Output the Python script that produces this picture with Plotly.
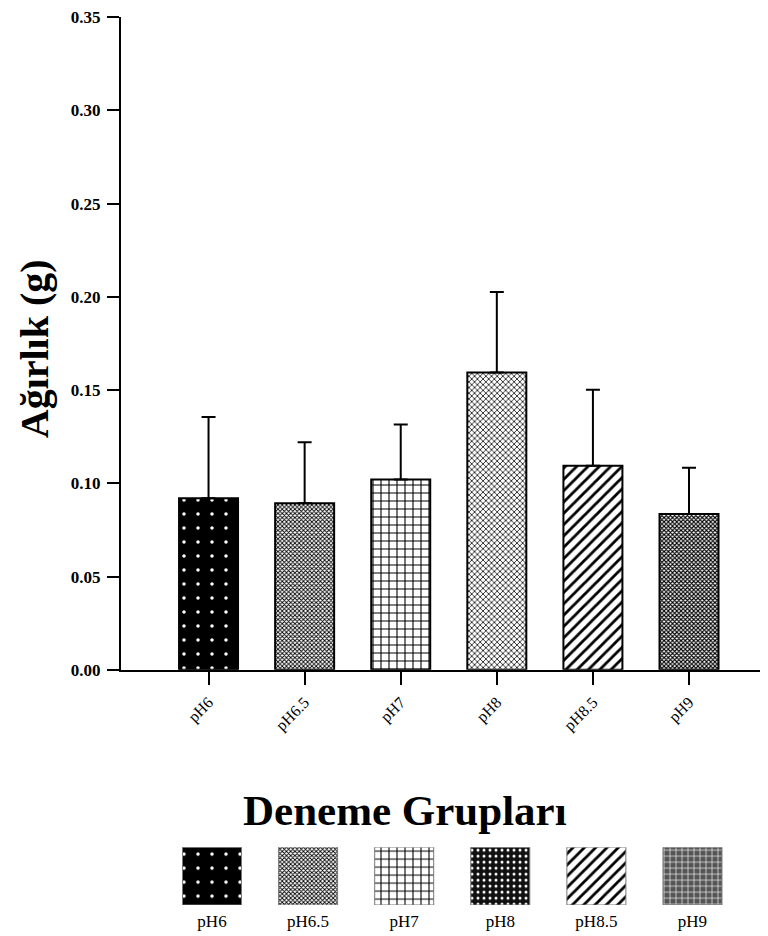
import plotly.graph_objects as go

categories = ["pH6", "pH6.5", "pH7", "pH8", "pH8.5", "pH9"]
means = [0.0920, 0.0893, 0.1021, 0.1595, 0.1095, 0.0836]
errors = [0.0436, 0.0327, 0.0294, 0.0431, 0.0407, 0.0248]
y_ticks = [0.00, 0.05, 0.10, 0.15, 0.20, 0.25, 0.30, 0.35]
legend_box = [1, 1, 1, 1, 1, 1]

FONT = "Liberation Serif"

bar_patterns = [
    dict(shape=".", bgcolor="black", fgcolor="white", size=14, solidity=0.05, fillmode="replace"),
    dict(shape="x", bgcolor="white", fgcolor="black", size=3, solidity=0.5, fillmode="replace"),
    dict(shape="+", bgcolor="white", fgcolor="black", size=8, solidity=0.25, fillmode="replace"),
    dict(shape="x", bgcolor="white", fgcolor="black", size=4, solidity=0.35, fillmode="replace"),
    dict(shape="/", bgcolor="white", fgcolor="black", size=8, solidity=0.35, fillmode="replace"),
    dict(shape="x", bgcolor="white", fgcolor="black", size=3, solidity=0.6, fillmode="replace"),
]
legend_patterns = [
    dict(shape=".", bgcolor="black", fgcolor="white", size=14, solidity=0.05, fillmode="replace"),
    dict(shape="x", bgcolor="white", fgcolor="black", size=3, solidity=0.5, fillmode="replace"),
    dict(shape="+", bgcolor="white", fgcolor="black", size=8, solidity=0.25, fillmode="replace"),
    dict(shape=".", bgcolor="#111111", fgcolor="white", size=6, solidity=0.2, fillmode="replace"),
    dict(shape="/", bgcolor="white", fgcolor="black", size=8, solidity=0.35, fillmode="replace"),
    dict(shape="+", bgcolor="#555555", fgcolor="white", size=6, solidity=0.2, fillmode="replace"),
]

fig = go.Figure()
for i, c in enumerate(categories):
    fig.add_trace(go.Bar(
        x=[c], y=[means[i]],
        marker=dict(pattern=bar_patterns[i], line=dict(color="black", width=2)),
        error_y=dict(type="data", symmetric=False, array=[errors[i]], arrayminus=[0],
                     color="black", thickness=2, width=7),
        showlegend=False, xaxis="x", yaxis="y",
    ))
    fig.add_trace(go.Bar(
        x=[c], y=[legend_box[i]],
        marker=dict(pattern=legend_patterns[i], line=dict(color="#777777", width=1)),
        showlegend=False, xaxis="x2", yaxis="y2", hoverinfo="skip",
    ))

# page body has an 8px margin: all pixel positions below are figure coordinates
W, H = 760, 928
L, R, T, B = 113, 0, 7, 31
ph = H - T - B
pw = W - L - R
base_px = 661.3
leg_top_px = 839

fig.update_layout(
    width=W, height=H,
    margin=dict(l=L, r=R, t=T, b=B),
    paper_bgcolor="white", plot_bgcolor="white",
    bargap=0.386, barmode="overlay",
    font=dict(family=FONT, color="black"),
    xaxis=dict(
        type="category", categoryorder="array", categoryarray=categories,
        range=[-0.911, 5.822], domain=[0, 1], anchor="y",
        showline=True, linecolor="black", linewidth=2,
        ticks="outside", ticklen=13, tickwidth=2, tickcolor="black",
        tickangle=-45, tickfont=dict(family=FONT, size=16, color="black"),
        ticklabelstandoff=2,
        showgrid=False, zeroline=False,
    ),
    yaxis=dict(
        range=[0, 0.3501], domain=[(H - B - base_px) / ph, 1], anchor="x",
        tickvals=y_ticks, tickformat=".2f",
        showline=True, linecolor="black", linewidth=2,
        ticks="outside", ticklen=12, tickwidth=2, tickcolor="black",
        tickfont=dict(family=FONT, size=17, color="black", weight="bold"),
        ticklabeloverflow="allow", ticklabelstandoff=3,
        showgrid=False, zeroline=False,
    ),
    xaxis2=dict(
        type="category", categoryorder="array", categoryarray=categories,
        range=[-0.947, 5.786], domain=[0, 1], anchor="y2",
        showline=False, ticks="", showgrid=False, zeroline=False,
        tickfont=dict(family=FONT, size=17, color="black"),
        ticklabelstandoff=4,
    ),
    yaxis2=dict(
        range=[0, 1], domain=[0, (H - B - leg_top_px) / ph], anchor="x2",
        visible=False, showgrid=False, zeroline=False,
    ),
    annotations=[
        dict(text="Ağırlık (g)", textangle=-90, xref="paper", yref="paper",
             x=(26 - L) / pw, y=(H - B - 340) / ph, xanchor="center", yanchor="middle",
             showarrow=False, font=dict(family=FONT, size=40, color="black", weight="bold")),
        dict(text="Deneme Grupları", xref="paper", yref="paper",
             x=(397 - L) / pw, y=(H - B - 802) / ph, xanchor="center", yanchor="middle",
             showarrow=False, font=dict(family=FONT, size=43, color="black", weight="bold")),
    ],
)

fig.write_html("out.html")
